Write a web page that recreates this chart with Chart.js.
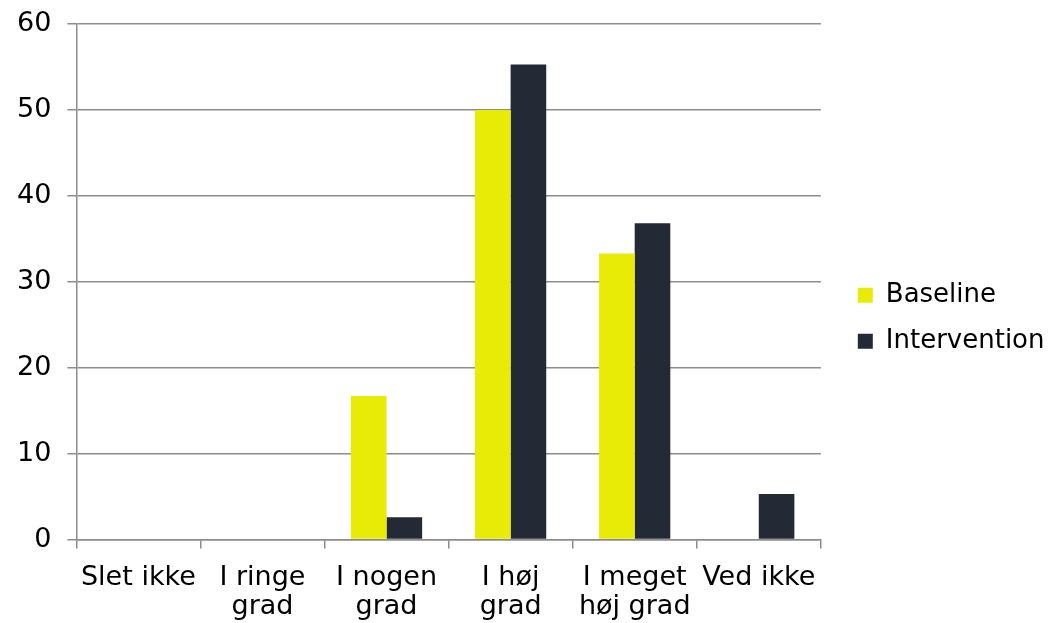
<!DOCTYPE html>
<html>
<head>
<meta charset="utf-8">
<script src="https://cdn.jsdelivr.net/npm/chart.js@4/dist/chart.umd.min.js"></script>
<style>
	html, body { margin: 0; padding: 0; background: #fff; }
	#wrap { width: 1053px; height: 623px; }
</style>
</head>
<body>
<div id="wrap"><canvas id="myChart"></canvas></div>
<script>
const categories = [
	["Slet ikke"],
	["I ringe", "grad"],
	["I nogen", "grad"],
	["I høj", "grad"],
	["I meget", "høj grad"],
	["Ved ikke"],
];
const baseline = [0, 0, 16.7, 50, 33.3, 0];
const intervention = [0, 0, 2.6, 55.3, 36.8, 5.3];
const yTicks = [0, 10, 20, 30, 40, 50, 60];

const fontFamily = "'DejaVu Sans', Verdana, sans-serif";
const gridColor = "#8c8c8c";

// nudge the legend: gap after the plot and a bit lower, like the original
const legendShift = {
	id: "legendShift",
	afterLayout(chart) {
		const lg = chart.legend;
		lg.left += 17;
		lg.right += 17;
		lg.top += 7;
		lg.bottom += 7;
	},
};

const chartData = {
	labels: categories,
	datasets: [
		{
			label: "Baseline",
			data: baseline,
			backgroundColor: "#e8eb05",
			categoryPercentage: 0.574,
			barPercentage: 1,
		},
		{
			label: "Intervention",
			data: intervention,
			backgroundColor: "#232a35",
			categoryPercentage: 0.574,
			barPercentage: 1,
		},
	],
};

const config = {
	type: "bar",
	data: chartData,
	plugins: [legendShift],
	options: {
		responsive: true,
		maintainAspectRatio: false,
		animation: false,
		layout: {
			padding: { top: 1, left: 1, right: 15.5, bottom: 1.5 },
		},
		plugins: {
			tooltip: { enabled: false },
			legend: {
				position: "right",
				labels: {
					color: "#000",
					font: { family: fontFamily, size: 26 },
					boxWidth: 15,
					boxHeight: 15,
					padding: 20,
				},
			},
		},
		scales: {
			x: {
				afterFit: scale => {
					scale.height = 82;
				},
				grid: {
					offset: true,
					drawOnChartArea: false,
					drawTicks: true,
					tickLength: 9,
					color: gridColor,
					lineWidth: 1.5,
				},
				border: { color: gridColor, width: 1.5 },
				ticks: {
					color: "#000",
					font: { family: fontFamily, size: 27, lineHeight: 29 / 27 },
					maxRotation: 0,
					autoSkip: false,
					padding: 15,
				},
			},
			y: {
				min: 0,
				max: 60,
				afterBuildTicks: axis => {
					axis.ticks = yTicks.map(v => ({ value: v }));
				},
				afterFit: scale => {
					scale.paddingTop = 24;
				},
				grid: {
					color: gridColor,
					lineWidth: 1.5,
					tickLength: 9,
				},
				border: { color: gridColor, width: 1.5 },
				ticks: {
					color: "#000",
					font: { family: fontFamily, size: 27, lineHeight: 1 },
					padding: 16,
				},
			},
		},
	},
};
new Chart(document.getElementById("myChart"), config);
</script>
</body>
</html>
